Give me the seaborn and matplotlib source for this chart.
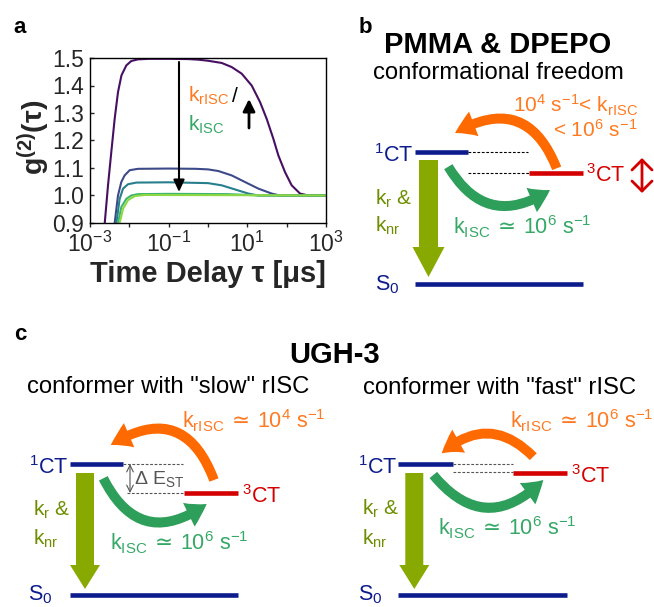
import numpy as np
import pandas as pd
import matplotlib
matplotlib.use('Agg')
import matplotlib.pyplot as plt
import seaborn as sns
from matplotlib.patches import FancyArrowPatch, FancyArrow
from matplotlib.ticker import NullFormatter

# ---------------- data (panel a) ----------------
tau_purple = [2.09e-3, 2.37e-3, 2.87e-3, 3.48e-3, 4.24e-3, 5.15e-3, 6.31e-3, 8.38e-3,
              1.12e-2, 1.66e-2, 3.16e-2, 0.1, 0.316, 0.562, 1.0, 2.23, 4.01, 7.19,
              12.9, 21.0, 31.0, 45.7, 61.4, 90.8, 134, 219, 355, 1000]
g_purple = [0.81, 0.90, 1.037, 1.158, 1.279, 1.376, 1.437, 1.473,
            1.489, 1.495, 1.497, 1.497, 1.496, 1.494, 1.490, 1.482, 1.467, 1.443,
            1.400, 1.340, 1.279, 1.207, 1.146, 1.085, 1.037, 1.007, 1.000, 1.000]

tau_blue = [3.55e-3, 4.24e-3, 5.15e-3, 6.25e-3, 7.59e-3, 1.02e-2, 1.66e-2, 0.1, 0.5,
            1.0, 1.83, 4.01, 8.71, 19.1, 41.7, 67.6, 1000]
g_blue = [0.81, 0.90, 1.000, 1.049, 1.073, 1.092, 1.097, 1.098, 1.097,
          1.095, 1.089, 1.073, 1.049, 1.025, 1.007, 1.000, 1.000]

tau_teal = [3.98e-3, 4.68e-3, 5.68e-3, 6.92e-3, 9.25e-3, 1.51e-2, 0.1, 1.0, 2.23,
            4.86, 10.6, 19.1, 1000]
g_teal = [0.84, 0.90, 0.988, 1.025, 1.041, 1.047, 1.048, 1.045, 1.037,
          1.022, 1.007, 1.000, 1.000]

tau_green = [4.37e-3, 5.15e-3, 6.25e-3, 8.38e-3, 1.12e-2, 1.66e-2, 0.1, 3.16, 10, 20, 1000]
g_green = [0.84, 0.90, 0.958, 0.988, 1.000, 1.005, 1.006, 1.005, 1.002, 1.000, 1.000]

tau_lime = [4.90e-3, 5.68e-3, 6.92e-3, 9.25e-3, 1.37e-2, 2.51e-2, 10, 1000]
g_lime = [0.84, 0.90, 0.952, 0.983, 0.998, 1.002, 1.001, 1.000]

series_names = ['purple', 'blue', 'teal', 'green', 'lime']
series_colors = ['#470f62', '#3d4a8a', '#277f8e', '#3cb66e', '#8fd744']

y_ticks = [0.9, 1.0, 1.1, 1.2, 1.3, 1.4, 1.5]
x_ticks_major = [1e-3, 1e-1, 1e1, 1e3]
x_tick_labels = ['10$^{-3}$', '10$^{-1}$', '10$^{1}$', '10$^{3}$']
x_ticks_minor = [1e-2, 1e0, 1e2]

# ---------------- style ----------------
sns.set_style('ticks')
plt.rcParams['font.family'] = ['Liberation Sans', 'DejaVu Sans']
plt.rcParams['mathtext.default'] = 'regular'

W, H = 654, 607
fig = plt.figure(figsize=(W / 100, H / 100), dpi=100)

# ---------------- panel a ----------------
ax = fig.add_axes([90 / W, 1 - 223 / H, 236 / W, 165 / H])
frames = []
for name, t, g in zip(series_names,
                      [tau_purple, tau_blue, tau_teal, tau_green, tau_lime],
                      [g_purple, g_blue, g_teal, g_green, g_lime]):
    frames.append(pd.DataFrame({'tau': t, 'g': g, 'series': name}))
df = pd.concat(frames, ignore_index=True)
sns.lineplot(data=df, x='tau', y='g', hue='series', hue_order=series_names,
             palette=series_colors, estimator=None, sort=False, legend=False,
             lw=1.5, ax=ax)
ax.set_xscale('log')
ax.set_xlim(1e-3, 1e3)
ax.set_ylim(0.9, 1.5)
ax.set_yticks(y_ticks)
ax.set_yticklabels([f'{v:.1f}' for v in y_ticks])
ax.set_xticks(x_ticks_major)
ax.set_xticklabels(x_tick_labels)
ax.set_xticks(x_ticks_minor, minor=True)
ax.xaxis.set_minor_formatter(NullFormatter())
ax.tick_params(axis='x', which='both', direction='out', length=3, width=1,
               labelsize=16.5, pad=3)
ax.tick_params(axis='y', direction='in', length=3, width=1, labelsize=16.5, pad=4)
for s in ax.spines.values():
    s.set_linewidth(1.0)
    s.set_color('black')
ax.set_xlabel('Time Delay τ [μs]', fontsize=21, fontweight='bold')
ax.set_ylabel('g$^{(2)}$(τ)', fontsize=20.5, fontweight='bold')
ax.xaxis.set_label_coords(0.5, -0.225)
ax.yaxis.set_label_coords(-0.16, 0.52)

# ---------------- overlay for annotations & diagrams ----------------
ov = fig.add_axes([0, 0, 1, 1])
ov.set_xlim(0, W)
ov.set_ylim(H, 0)
ov.axis('off')
ov.patch.set_alpha(0)

NAVY = '#0c1c8c'
RED = '#d40000'
ORANGE = '#ff6a00'
ORANGE_T = '#ff7a22'
GREEN = '#2e9e5b'
GREEN_T = '#35a866'
OLIVE = '#88aa00'
OLIVE_T = '#6e8e00'
GRAY = '#555555'
BLACK = 'black'
SIM = r'$\,\mathrm{\simeq}\,$'


def T(x, y, s, color=BLACK, size=15.5, ha='left', weight='normal'):
    ov.text(x, y, s, color=color, fontsize=size, ha=ha, va='baseline',
            fontweight=weight)


def level(x0, x1, y, color):
    ov.plot([x0, x1], [y, y], color=color, lw=3.3, solid_capstyle='butt')


def dash(x0, x1, y, color=BLACK):
    ov.plot([x0, x1], [y, y], color=color, lw=0.8, ls=(0, (2.5, 1.5)))


def big_down(x, y0, y1, body, head, hl):
    ov.add_patch(FancyArrow(x, y0, 0, y1 - y0, width=body, head_width=head,
                            head_length=hl, length_includes_head=True,
                            color=OLIVE, lw=0))


def curved(p0, p1, rad, color):
    ov.add_patch(FancyArrowPatch(p0, p1, connectionstyle=f'arc3,rad={rad}',
                                 arrowstyle='simple,head_length=15,head_width=19,tail_width=7',
                                 mutation_scale=1, color=color, lw=0,
                                 shrinkA=0, shrinkB=0))


def thin_arrow(p0, p1, style, color, lw, ms):
    ov.add_patch(FancyArrowPatch(p0, p1, arrowstyle=style, mutation_scale=ms,
                                 color=color, lw=lw, shrinkA=0, shrinkB=0))


# panel a annotations
T(20, 33, 'a', size=16, ha='center', weight='bold')
thin_arrow((179, 62), (179, 192), '-|>,head_length=0.72,head_width=0.33', BLACK, 1.5, 10)
thin_arrow((249, 128), (249, 99), '-|>,head_length=0.72,head_width=0.36', BLACK, 2.0, 10)
T(188, 102, 'k$_{rISC}$', ORANGE_T, 15)
T(232, 102, '/', BLACK, 15)
T(188, 131, 'k$_{ISC}$', GREEN_T, 15)

# panel b
T(365, 33, 'b', size=16, ha='center', weight='bold')
T(498, 53, 'PMMA & DPEPO', size=21, ha='center', weight='bold')
T(498, 79, 'conformational freedom', size=17.2, ha='center')
level(415, 468, 152, NAVY)
dash(468, 528, 152)
dash(468, 530, 173)
level(529, 583, 173, RED)
level(415, 583, 284, NAVY)
T(413, 162, '$^{1}$CT', NAVY, ha='right')
T(586, 182, '$^{3}$CT', RED)
T(375, 290, 'S$_{0}$', NAVY)
T(375, 205, 'k$_{r}$ &', OLIVE_T, 15)
T(375, 232, 'k$_{nr}$', OLIVE_T, 15)
big_down(428.5, 160, 277, 19, 32, 30)
curved((556.7, 168.3), (455, 133), 0.58, ORANGE)
curved((448.3, 166.7), (550, 190), 0.52, GREEN)
thin_arrow((642, 158), (642, 193), '<->,head_length=0.36,head_width=0.36', RED, 2.0, 20)
T(638, 113, '10$^{4}$ s$^{-1}$< k$_{rISC}$', ORANGE_T, 15, ha='right')
T(637, 137, '< 10$^{6}$ s$^{-1}$', ORANGE_T, 15, ha='right')
T(453, 234, 'k$_{ISC}$' + SIM + '10$^{6}$ s$^{-1}$', GREEN_T, 15.5)

# panel c
T(20, 340, 'c', size=16, ha='center', weight='bold')
T(335, 363, 'UGH-3', size=21, ha='center', weight='bold')
T(168, 393, 'conformer with "slow" rISC', size=17.2, ha='center')
T(500, 394, 'conformer with "fast" rISC', size=17.2, ha='center')

# c left
level(70, 123, 464, NAVY)
dash(123, 183, 464, GRAY)
dash(127, 183, 493, GRAY)
level(184, 238, 493, RED)
level(70, 238, 595, NAVY)
T(68, 474, '$^{1}$CT', NAVY, ha='right')
T(242, 503, '$^{3}$CT', RED)
T(28, 600, 'S$_{0}$', NAVY)
T(33, 516, 'k$_{r}$ &', OLIVE_T, 15)
T(33, 545, 'k$_{nr}$', OLIVE_T, 15)
big_down(85, 473, 589, 18, 30, 24)
curved((214, 480), (110.7, 445), 0.61, ORANGE)
curved((103.3, 478.3), (206.7, 504), 0.58, GREEN)
thin_arrow((130, 464), (130, 493), '<->,head_length=0.4,head_width=0.2', GRAY, 0.8, 12)
T(134, 484, 'Δ E$_{ST}$', GRAY, 14)
T(182, 428, 'k$_{rISC}$' + SIM + '10$^{4}$ s$^{-1}$', ORANGE_T, 15.5)
T(110, 550, 'k$_{ISC}$' + SIM + '10$^{6}$ s$^{-1}$', GREEN_T, 15.5)

# c right
level(398, 453, 464, NAVY)
dash(453, 513, 464, GRAY)
dash(453, 513, 472, GRAY)
level(513, 567, 473, RED)
level(398, 567, 595, NAVY)
T(397, 474, '$^{1}$CT', NAVY, ha='right')
T(571, 483, '$^{3}$CT', RED)
T(358, 600, 'S$_{0}$', NAVY)
T(362, 515, 'k$_{r}$ &', OLIVE_T, 15)
T(362, 545, 'k$_{nr}$', OLIVE_T, 15)
big_down(414.3, 473, 589, 18, 30, 24)
curved((533.3, 456.7), (441.7, 453.3), 0.47, ORANGE)
curved((433.3, 475), (543.3, 480), 0.55, GREEN)
T(510, 428, 'k$_{rISC}$' + SIM + '10$^{6}$ s$^{-1}$', ORANGE_T, 15.5)
T(438, 535, 'k$_{ISC}$' + SIM + '10$^{6}$ s$^{-1}$', GREEN_T, 15.5)

fig.savefig('out.png', dpi=100)
